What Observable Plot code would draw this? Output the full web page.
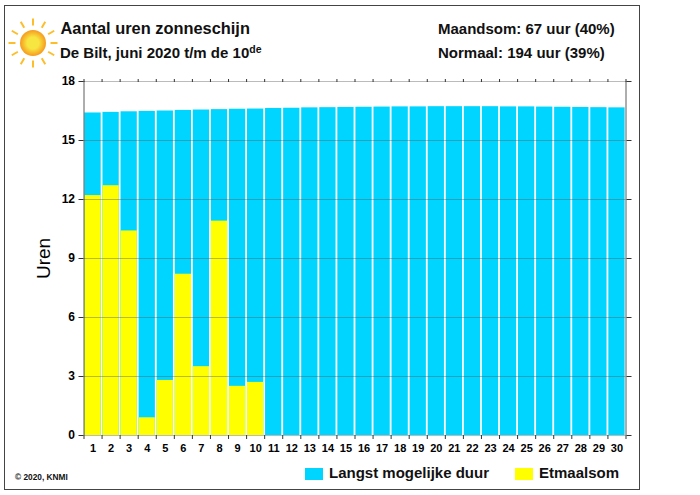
<!DOCTYPE html>
<html><head><meta charset="utf-8">
<script src="https://cdn.jsdelivr.net/npm/d3@7"></script>
<script src="https://cdn.jsdelivr.net/npm/@observablehq/plot@0.6"></script>
<style>
html,body{margin:0;padding:0;background:#fff;width:700px;height:495px;overflow:hidden}
#page{position:relative;width:700px;height:495px;font-family:"Liberation Sans",Arial,sans-serif;color:#000}
#frame{position:absolute;left:3.5px;top:4.5px;width:634px;height:483px;border:1.5px solid #444;box-sizing:content-box}
.t{position:absolute;white-space:nowrap;line-height:1;font-weight:bold;color:#111}
.sw{position:absolute;width:18px;height:12px}
sup{font-size:10.5px;line-height:0;vertical-align:5px}
svg.plot{position:absolute;left:0;top:0}
</style></head><body>
<div id="page">
<div id="frame"></div>
<div id="chart"></div>
<svg id="sun" width="60" height="60" style="position:absolute;left:3px;top:13px"></svg>
<div class="t" style="left:60.5px;top:20px;font-size:16.4px">Aantal uren zonneschijn</div>
<div class="t" style="left:60px;top:44.5px;font-size:15px">De Bilt, juni 2020 t/m de 10<sup>de</sup></div>
<div class="t" style="left:438px;top:20.5px;font-size:15px">Maandsom: 67 uur (40%)</div>
<div class="t" style="left:438px;top:44.5px;font-size:15px">Normaal: 194 uur (39%)</div>
<div class="t" style="left:15px;top:473px;font-size:8.3px">© 2020, KNMI</div>
<div class="sw" style="left:305px;top:468px;background:#00d5ff"></div>
<div class="t" style="left:329px;top:465px;font-size:15px">Langst mogelijke duur</div>
<div class="sw" style="left:515px;top:468px;background:#ffff00"></div>
<div class="t" style="left:539px;top:465px;font-size:15px">Etmaalsom</div>
</div>
<script>
const days = d3.range(1, 31);
const edges = d3.range(0.5, 31, 1);
const yTicks = [0, 3, 6, 9, 12, 15, 18];
const maxDuration = [16.4,16.43,16.46,16.48,16.5,16.53,16.55,16.57,16.59,16.6,16.63,16.64,16.66,16.67,16.68,16.69,16.7,16.71,16.71,16.72,16.72,16.72,16.72,16.71,16.71,16.7,16.69,16.68,16.67,16.66];
const sunHours = [12.2,12.7,10.4,0.9,2.8,8.2,3.5,10.9,2.5,2.7];
const blue = "#00d5ff", yellow = "#ffff00", ink = "#333";

const chart = Plot.plot({
  width: 700, height: 495,
  marginLeft: 83.5, marginRight: 74.5, marginTop: 81, marginBottom: 60,
  style: {fontFamily: '"Liberation Sans",Arial,sans-serif', background: "transparent"},
  x: {type: "linear", domain: [0.5, 30.5]},
  y: {domain: [0, 18]},
  marks: [
    Plot.rectY(days, {x1: d => d - 0.45, x2: d => d + 0.45, y1: 0, y2: (d, i) => maxDuration[i], fill: blue}),
    Plot.rectY(sunHours, {x1: (d, i) => i + 0.55, x2: (d, i) => i + 1.45, y1: 0, y2: d => d, fill: yellow}),
    Plot.ruleY(yTicks, {stroke: "#555", strokeWidth: 0.5, strokeOpacity: 0.8}),
    Plot.ruleX([0.5, 30.5], {stroke: ink, strokeWidth: 0.8}),
    Plot.axisX({anchor: "bottom", ticks: edges, tickFormat: () => "", tickSize: 4, stroke: ink, label: null}),
    Plot.axisX({anchor: "top", ticks: edges, tickFormat: () => "", tickSize: 3, stroke: ink, label: null}),
    Plot.axisX({anchor: "bottom", ticks: days, tickSize: 0, tickPadding: 9, tickFormat: d => d, fontSize: 11, fontWeight: "bold", label: null, fill: "#000"}),
    Plot.axisY({anchor: "left", ticks: yTicks, tickSize: 5, tickPadding: 4, fontSize: 12, fontWeight: "bold", label: null, stroke: ink, fill: "#000"}),
    Plot.axisY({anchor: "right", ticks: yTicks, tickSize: 5, tickFormat: () => "", label: null, stroke: ink}),
    Plot.text(["Uren"], {frameAnchor: "left", textAnchor: "middle", dx: -40, rotate: -90, fontSize: 19, fill: "#000"})
  ]
});
document.getElementById("chart").appendChild(chart);

// Decorative sun icon
const sun = d3.select("#sun");
const cx = 30, cy = 30;
const grad = sun.append("defs").append("radialGradient").attr("id", "sg");
grad.append("stop").attr("offset", "45%").attr("stop-color", "#f7e642");
grad.append("stop").attr("offset", "100%").attr("stop-color", "#f79a1e");
d3.range(12).forEach(k => {
  sun.append("line").attr("x1", cx).attr("x2", cx).attr("y1", cy - 17.5).attr("y2", cy - 24.5)
    .attr("stroke", "#fdbe2a").attr("stroke-width", 2)
    .attr("transform", `rotate(${k * 30} ${cx} ${cy})`);
});
sun.append("circle").attr("cx", cx).attr("cy", cy).attr("r", 13).attr("fill", "url(#sg)");
</script>
</body></html>
